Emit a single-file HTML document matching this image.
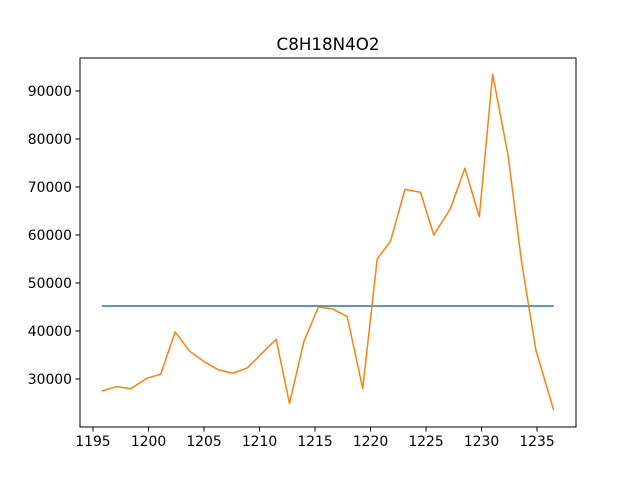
<!DOCTYPE html>
<html><head><meta charset="utf-8"><style>
body{margin:0;background:#fff;}
svg text{font-family:"DejaVu Sans","Liberation Sans",sans-serif;fill:#000;}
</style></head><body>
<svg id="chart" width="640" height="480" xmlns="http://www.w3.org/2000/svg">
<rect width="640" height="480" fill="#fff"/>
<text x="328" y="50" font-size="16.7" text-anchor="middle">C8H18N4O2</text>
<g id="plot"></g>
<rect x="80" y="58" width="496" height="369" fill="none" stroke="#000" stroke-width="1"/>
</svg>
<script>
const xValues=[1195.8,1197.1,1198.4,1199.9,1201.1,1202.4,1203.7,1205.1,1206.3,1207.6,1208.9,1210.2,1211.5,1212.7,1214.0,1215.3,1216.6,1217.9,1219.3,1220.6,1221.8,1223.1,1224.5,1225.7,1227.2,1228.5,1229.8,1231.0,1232.4,1233.6,1234.9,1236.5];
const seriesValues=[27500,28400,28000,30200,31000,39800,35800,33500,31900,31200,32300,35300,38300,24900,37800,45000,44600,43000,28000,55000,58700,69500,68900,60000,65500,73900,63800,93500,76500,54500,36000,23500];
const meanValue=[45200];
const xTicks=[1195,1200,1205,1210,1215,1220,1225,1230,1235];
const yTicks=[30000,40000,50000,60000,70000,80000,90000];
const ns="http://www.w3.org/2000/svg";
const X=v=>80+(v-1193.83)*(496/(1238.51-1193.83));
const Y=v=>427-(v-20000)*(369/(96875-20000));
const g=document.getElementById('plot');
function mk(t,a){const e=document.createElementNS(ns,t);for(const k in a)e.setAttribute(k,a[k]);g.appendChild(e);return e;}
xTicks.forEach(t=>{
 const l=mk('line',{x1:X(t),x2:X(t),y1:427,y2:431.5,stroke:'#000'});
 
 
 const tx=mk('text',{x:X(t),y:446,'font-size':13.9,'text-anchor':'middle'});tx.textContent=t;
 
 
});
yTicks.forEach(t=>{
 const l=mk('line',{x1:75.5,x2:80,y1:Y(t),y2:Y(t),stroke:'#000'});
 
 
 const tx=mk('text',{x:72,y:Y(t)+5,'font-size':13.9,'text-anchor':'end'});tx.textContent=t;
 
 
});
const m=mk('line',{x1:X(xValues[0]),x2:X(xValues[xValues.length-1]),y1:Y(meanValue[0]),y2:Y(meanValue[0]),stroke:'#1f77b4','stroke-width':1.5});


const p=mk('polyline',{points:xValues.map((x,i)=>X(x)+','+Y(seriesValues[i])).join(' '),fill:'none',stroke:'#ff7f0e','stroke-width':1.5,'stroke-linejoin':'round'});


</script>
</body></html>
